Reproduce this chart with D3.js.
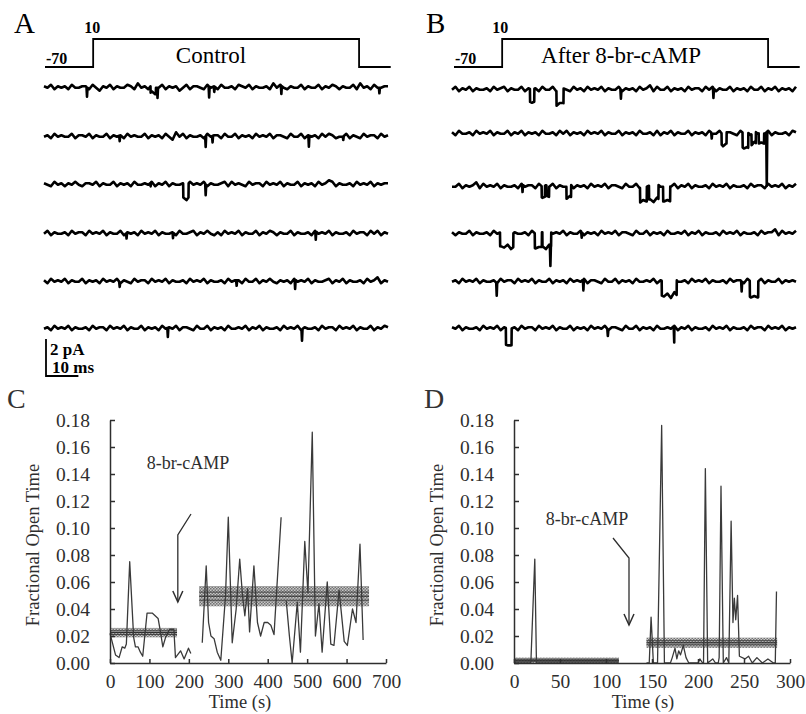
<!DOCTYPE html>
<html lang="en">
  <head>
    <meta charset="utf-8">
    <title>8-br-cAMP single channel</title>
    <style>
      body { margin: 0; background: white; }
      svg { display: block; }
      text { font-family: "Liberation Serif", "Times New Roman", serif; }
    </style>
    <script src="https://d3js.org/d3.v7.min.js"></script>
  </head>
  <body>
    <div class="viz"></div>
    <script>
    // ---- panels A/B: voltage protocol and current traces ----
    const protoTimes = [0, 14, 14, 91.3, 91.3, 100.5]
    const protoVolts = [-70, -70, 10, 10, -70, -70]

    const baseA = [87, 136, 184, 233, 281, 328]
    const baseB = [89, 133, 186, 233, 281, 328]

    // baseline noise, one digit per ms (4-5 = closed level)
    const noiseA = [
      "5463545364455364254635446537453644635452463554364536445365463544537464354463544635465354463745364455",
      "4536454463554635446354536454463545364274635445364553644635453645463554364463545364653446354364553645",
      "5436453546435546354463545364454635463544536454635445636454364553645463544635453645763544536454635455",
      "4635445364553645463544635453645463544536445635464353645463544635465354463544536454635445364553646354",
      "5364546354463545364546354364553645463544536454635445364553644635464354536454635445635463544536457354",
      "4536454635445364553645463544635453645463554364463545364454635463544536454635445364553645463544635465"
    ]
    const noiseB = [
      "4635463544536456354463545364463554364536454635446354536457364463545364553646354463545364463546354536",
      "5364453645463544635463545364453646354536454635446354536445363546354463545364463554364536454635445365",
      "4463545736454635445364553645463544635453645463554364463545364454635463544536454635445364553645463546",
      "5354463544536454635445364553645463544635453645463554364463545364454635463544536454635445364557364546",
      "4536454635445364553645463544635453645463554364463545364454635463744536454635445364553645463544635454",
      "5463544536454635445364553645463544635453645463554364463545364454635463544536454635445364553645463545"
    ]

    // openings [start ms, end ms, amplitude pA]; start == end is a brief spike
    const eventsA = [
      [[12.5,12.5,0.5],[31,32.5,0.35],[33,33,0.55],[48,48,0.6],[49.5,49.5,0.3],[69,69,0.45],[97.5,97.5,0.3]],
      [[22,22,0.3],[47,47,0.6],[49,49,0.35],[77,77,0.6],[87,87,0.2]],
      [[31,31,0.2],[40.5,42,0.75],[47,47,0.6]],
      [[24,24,0.3],[37.5,37.5,0.3],[79,79,0.45]],
      [[22,22,0.25],[56,56,0.3],[73,73,0.5]],
      [[36,36,0.5],[75,75,0.6]]
    ]
    const eventsB = [
      [[22.7,23.9,0.7],[30.4,32.4,0.8],[49.1,49.1,0.5],[76,76,0.55]],
      [[75.5,75.5,0.3],[78.4,79.8,0.6],[84.5,86.1,0.8],[87.1,88.3,0.6],[89.2,90.7,0.55],[91.5,91.5,2.9]],
      [[20.5,20.5,0.4],[26.1,27,0.6],[27.5,28.2,0.55],[33.3,34.6,0.65],[54.7,56.6,0.8],[57.3,60,0.75],[61.4,63.4,0.8]],
      [[14,17.8,0.75],[24.1,26.1,0.8],[26.3,28.8,0.75],[28.6,28.6,1.1],[37.7,37.7,0.3]],
      [[13,13,0.7],[38.2,38.2,0.6],[61,65.3,0.8],[84.2,84.2,0.55],[86.6,89,0.85]],
      [[15.7,17.3,0.9],[45.3,45.3,0.35],[64.6,64.6,0.9]]
    ]

    // ---- panels C/D: fractional open time ----
    const cTime = [0,14,23,31,37.5,41.5,50,60,64.5,71,77,83,94,107,122,128,134,141,151,162,166,179,188,199,205,
                   null,
                   234,244,250,256,264,272,281,293,300,310,320,329,336,342,349,354,365,374,382,391,400,408,416,434,
                   null,
                   447,455,462,475,483,494,502,513,521,530,538,551,560,568,581,594,602,615,624,634,642]
    const cValue = [0.022,0.006,0.004,0.012,0.011,0.014,0.075,0.019,0.012,0.012,0.008,0.005,0.037,0.037,0.033,0.023,0.012,0.019,0.025,0.025,0.004,0.009,0.003,0.011,0.007,
                    null,
                    0.015,0.072,0.03,0.02,0.018,0.008,0.002,0.05,0.108,0.015,0.04,0.077,0.05,0.035,0.055,0.023,0.072,0.03,0.02,0.03,0.03,0.028,0.021,0.108,
                    null,
                    0.046,0.02,0.0,0.045,0.008,0.09,0.052,0.171,0.02,0.044,0.008,0.06,0.014,0.013,0.054,0.016,0.013,0.04,0.03,0.088,0.017]
    // [start s, end s, mean, half width]
    const cBands = [[0,170,0.0225,0.0035],[226,657,0.0495,0.0075]]

    const dTime = [0,18.3,22.6,24.4,114,
                   null,
                   144,147,149,151.5,156,160.5,163.5,170,172,175,177,179,181,184,187,190,200,202,205,206,208,210.5,216,219,222,223,225,227.5,
                   231,233.5,236,238,239.5,241,243,245,251,255,259,264,270,276,282,284,285.3]
    const dValue = [0,0,0.077,0,0,
                    null,
                    0,0,0.034,0,0,0.176,0,0,0.004,0.011,0.003,0.009,0.006,0.013,0.004,0,0,0.003,0,0,0.144,0,0.003,0,0,0.004,0.131,0,
                    0.004,0,0.105,0.03,0.048,0.032,0.05,0.005,0.003,0.005,0,0.004,0,0.003,0,0,0.053]
    const dBands = [[0,114,0.002,0.002],[144,286,0.015,0.0038]]

    const yTicks = [0,0.02,0.04,0.06,0.08,0.10,0.12,0.14,0.16,0.18]
    const cTicks = [0,100,200,300,400,500,600,700]
    const dTicks = [0,50,100,150,200,250,300]

    const svg = d3.select(".viz").append("svg")
      .attr("width", 806).attr("height", 714)
      .style("background-color", "white")

    const defs = svg.append("defs")
    const pat = defs.append("pattern").attr("id", "stip")
      .attr("patternUnits", "userSpaceOnUse").attr("width", 3).attr("height", 3)
    pat.append("rect").attr("width", 3).attr("height", 3).attr("fill", "#bdbdbd")
    pat.append("rect").attr("width", 1.5).attr("height", 1.5).attr("fill", "#5a5a5a")
    pat.append("rect").attr("x", 1.5).attr("y", 1.5).attr("width", 1.5).attr("height", 1.5).attr("fill", "#5a5a5a")

    const pAperPx = 18.5

    function drawTraces(x0, x1, bases, noise, events, protoStart, label, lx, title, titleX) {
      const x = d3.scaleLinear().domain([0, 100]).range([x0, x1])

      // voltage step
      const v = d3.scaleLinear().domain([-70, 10]).range([67, 39])
      const proto = protoTimes.map((t, i) => [t, protoVolts[i]])
      svg.append("path")
        .datum(proto)
        .attr("d", d3.line().x(d => x(d[0]) + protoStart).y(d => v(d[1])))
        .attr("fill", "none").attr("stroke", "black").attr("stroke-width", 1.8)

      svg.append("text").attr("x", lx).attr("y", 33).text(label)
        .style("font-size", "29px")
      svg.append("text").attr("x", x(14) - 8).attr("y", 33).text("10")
        .style("font-size", "16px").style("font-weight", "bold")
      svg.append("text").attr("x", x0 + 1 + protoStart).attr("y", 64).text("-70")
        .style("font-size", "16px").style("font-weight", "bold")
      svg.append("text").attr("x", titleX).attr("y", 63).text(title)
        .style("font-size", "23px").style("text-anchor", "middle")

      bases.forEach((b, k) => {
        const s = noise[k]
        const n = s.length
        const nz = t => {
          const f = t * (n - 1) / 100
          const i = Math.max(0, Math.min(n - 2, Math.floor(f)))
          const a = (+s[i] - 4.5) * 0.08, c = (+s[i + 1] - 4.5) * 0.08
          return a + (c - a) * (f - i)
        }
        const ev = events[k]
        const open = t => d3.sum(ev.filter(e => e[1] > e[0] && t >= e[0] && t <= e[1]), e => e[2])
        let pts = d3.range(n).map(i => i * 100 / (n - 1))
        ev.forEach(e => {
          if (e[1] > e[0]) pts.push(e[0] - 0.05, e[0], e[1], e[1] + 0.05)
          else pts.push(e[0] - 0.15, e[0], e[0] + 0.15)
        })
        pts = pts.filter(t => t >= 0 && t <= 100).sort((a, b) => a - b)
        const vals = pts.map(t => {
          let c = nz(t) - open(t)
          ev.forEach(e => { if (e[1] === e[0] && Math.abs(t - e[0]) < 0.01) c -= e[2] })
          return [t, c]
        })
        const y = d3.scaleLinear().domain([-1, 1]).range([b + pAperPx, b - pAperPx])
        svg.append("path").datum(vals)
          .attr("d", d3.line().x(d => x(d[0])).y(d => y(d[1])))
          .attr("fill", "none").attr("stroke", "black")
          .attr("stroke-width", 2.6).attr("stroke-linejoin", "round")
      })
      return x
    }

    const xa = drawTraces(44, 388, baseA, noiseA, eventsA, 1, "A", 14, "Control", 211)
    drawTraces(452, 796, baseB, noiseB, eventsB, 2, "B", 426, "After 8-br-cAMP", 621)

    // scale bar: 2 pA, 10 ms
    svg.append("path")
      .attr("d", d3.line()([[46, 376 - 2 * pAperPx], [46, 376], [xa(10), 376]]))
      .attr("fill", "none").attr("stroke", "black").attr("stroke-width", 1.8)
    svg.append("text").attr("x", 50).attr("y", 355).text("2 pA")
      .style("font-size", "17px").style("font-weight", "bold")
    svg.append("text").attr("x", 52).attr("y", 373).text("10 ms")
      .style("font-size", "17px").style("font-weight", "bold")

    // ---- time-course panels ----
    function drawCourse(opt) {
      const g = svg.append("g")
      const x = d3.scaleLinear().domain([0, opt.xmax]).range([opt.x0, opt.x1])
      const y = d3.scaleLinear().domain([0, 0.18]).range([663, 420])
      const ink = "#2e2e2e"

      opt.bands.forEach(b => {
        g.append("rect")
          .attr("x", x(b[0])).attr("width", x(b[1]) - x(b[0]))
          .attr("y", y(b[2] + b[3])).attr("height", y(b[2] - b[3]) - y(b[2] + b[3]))
          .attr("fill", "url(#stip)").attr("opacity", 0.85)
        ;[-0.4, 0, 0.4].forEach(f => {
          g.append("line")
            .attr("x1", x(b[0])).attr("x2", x(b[1]))
            .attr("y1", y(b[2] + f * b[3])).attr("y2", y(b[2] + f * b[3]))
            .attr("stroke", f === 0 ? "#222" : "#444").attr("stroke-width", 1)
        })
      })

      const pts = opt.time.map((t, i) => [t, opt.value[i]])
      g.append("path").datum(pts)
        .attr("d", d3.line().defined(d => d[0] !== null).x(d => x(d[0])).y(d => y(d[1])))
        .attr("fill", "none").attr("stroke", "#3a3a3a").attr("stroke-width", 1.3)
        .attr("stroke-linejoin", "round")

      const ax = g.append("g").attr("transform", `translate(0,663)`)
        .call(d3.axisBottom(x).tickValues(opt.xticks).tickSize(-4).tickSizeOuter(0).tickPadding(11))
      const ay = g.append("g").attr("transform", `translate(${opt.x0},0)`)
        .call(d3.axisLeft(y).tickValues(yTicks).tickFormat(d3.format(".2f")).tickSize(-5).tickSizeOuter(0).tickPadding(20))
      ;[ax, ay].forEach(a => {
        a.selectAll("path,line").attr("stroke", ink).attr("stroke-width", 1.5)
        a.selectAll("text").attr("fill", ink)
          .style("font-family", "'Liberation Serif', serif").style("font-size", "19.5px")
      })

      g.append("text").attr("x", opt.titleX).attr("y", 708).text("Time (s)")
        .style("font-size", "18.5px").style("text-anchor", "middle").attr("fill", ink)
      g.append("text")
        .attr("transform", `translate(${opt.x0 - 71},545) rotate(-90)`)
        .text("Fractional Open Time")
        .style("font-size", "18.5px").style("text-anchor", "middle").attr("fill", ink)
      g.append("text").attr("x", opt.lx).attr("y", 408).text(opt.label)
        .style("font-size", "28px").attr("fill", "#333")

      // drug application arrow
      const a = opt.arrow
      g.append("text").attr("x", a.tx).attr("y", a.ty).text("8-br-cAMP")
        .style("font-size", "18px").style("text-anchor", "middle").attr("fill", ink)
      g.append("path")
        .attr("d", d3.line()([[a.x0, a.y0], [x(a.t), a.yk], [x(a.t), a.y1]]))
        .attr("fill", "none").attr("stroke", ink).attr("stroke-width", 1.3)
      g.append("path")
        .attr("d", d3.line()([[x(a.t) - 5, a.y1 - 11], [x(a.t), a.y1], [x(a.t) + 5, a.y1 - 11]]))
        .attr("fill", "none").attr("stroke", ink).attr("stroke-width", 1.5)
    }

    drawCourse({
      x0: 110, x1: 386, xmax: 700, xticks: cTicks,
      time: cTime, value: cValue, bands: cBands,
      label: "C", lx: 7, titleX: 240,
      arrow: { tx: 188, ty: 469, x0: 191, y0: 514, t: 172, yk: 535, y1: 602 }
    })
    drawCourse({
      x0: 514, x1: 790, xmax: 300, xticks: dTicks,
      time: dTime, value: dValue, bands: dBands,
      label: "D", lx: 424, titleX: 643,
      arrow: { tx: 587, ty: 525, x0: 613, y0: 538, t: 125, yk: 558, y1: 625 }
    })
    </script>
  </body>
</html>
